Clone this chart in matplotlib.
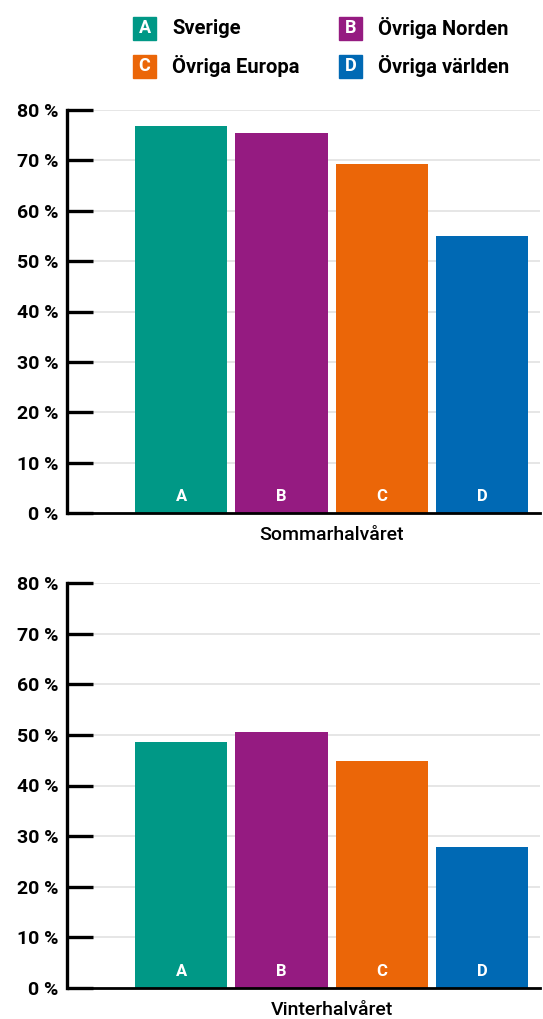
import matplotlib
matplotlib.use('Agg')
import matplotlib.pyplot as plt
from matplotlib.patches import Rectangle
from matplotlib.transforms import blended_transform_factory

plt.rcParams['font.family'] = ['Roboto', 'DejaVu Sans']

# data
letters = ['A', 'B', 'C', 'D']
names = ['Sverige', 'Övriga Norden', 'Övriga Europa', 'Övriga världen']
colors = ['#009886', '#951b81', '#eb6608', '#0069b4']
sommar = [76.8, 75.4, 69.2, 55.0]
vinter = [48.6, 50.6, 44.9, 27.9]
yticks = [0, 10, 20, 30, 40, 50, 60, 70, 80]
ytick_labels = ['%d %%' % v for v in yticks]

W, H = 543, 1019
fig = plt.figure(figsize=(W / 100, H / 100), dpi=100)


def panel(rect, values, title):
    ax = fig.add_axes(rect)
    x = list(range(len(values)))
    ax.bar(x, values, width=0.92, color=colors, zorder=2)
    for xi, let in zip(x, letters):
        ax.text(xi, 3.2, let, color='white', ha='center', va='center',
                fontsize=12, fontweight='bold', zorder=3)
    ax.set_xlim(-1.14, 3.58)
    ax.set_ylim(0, 80)
    ax.set_yticks(yticks)
    ax.set_yticklabels(ytick_labels, fontsize=14, fontweight='bold')
    ax.set_xticks([])
    ax.tick_params(axis='y', direction='in', length=19, width=2.4, pad=6, color='black')
    ax.yaxis.grid(True, color='#e6e6e6', linewidth=1.4, zorder=0)
    ax.set_axisbelow(True)
    for s in ['top', 'right']:
        ax.spines[s].set_visible(False)
    ax.spines['left'].set_linewidth(2.4)
    ax.spines['bottom'].set_linewidth(2.0)
    ax.spines['left'].set_zorder(4)
    ax.spines['bottom'].set_zorder(4)
    tr = blended_transform_factory(ax.transData, ax.transAxes)
    ax.text(1.5, -0.055, title, transform=tr, ha='center', va='center',
            fontsize=14, fontweight='medium')
    return ax


panel([67 / W, 1 - 513 / H, 473 / W, 403 / H], sommar, 'Sommarhalvåret')
panel([67 / W, 1 - 988 / H, 473 / W, 405 / H], vinter, 'Vinterhalvåret')

# legend
sq = 23
col_x = [133, 339]
row_y = [28, 66]
for i, (let, name, c) in enumerate(zip(letters, names, colors)):
    cx = col_x[i % 2]
    cy = row_y[i // 2]
    fig.add_artist(Rectangle(((cx) / W, 1 - (cy + sq / 2) / H), sq / W, sq / H,
                             transform=fig.transFigure, color=c))
    fig.text((cx + sq / 2) / W, 1 - cy / H, let, color='white', ha='center',
             va='center', fontsize=13, fontweight='bold')
    fig.text((cx + 39) / W, 1 - cy / H, name, ha='left', va='center',
             fontsize=14.5, fontweight='bold')

fig.savefig('out.png', dpi=100)
